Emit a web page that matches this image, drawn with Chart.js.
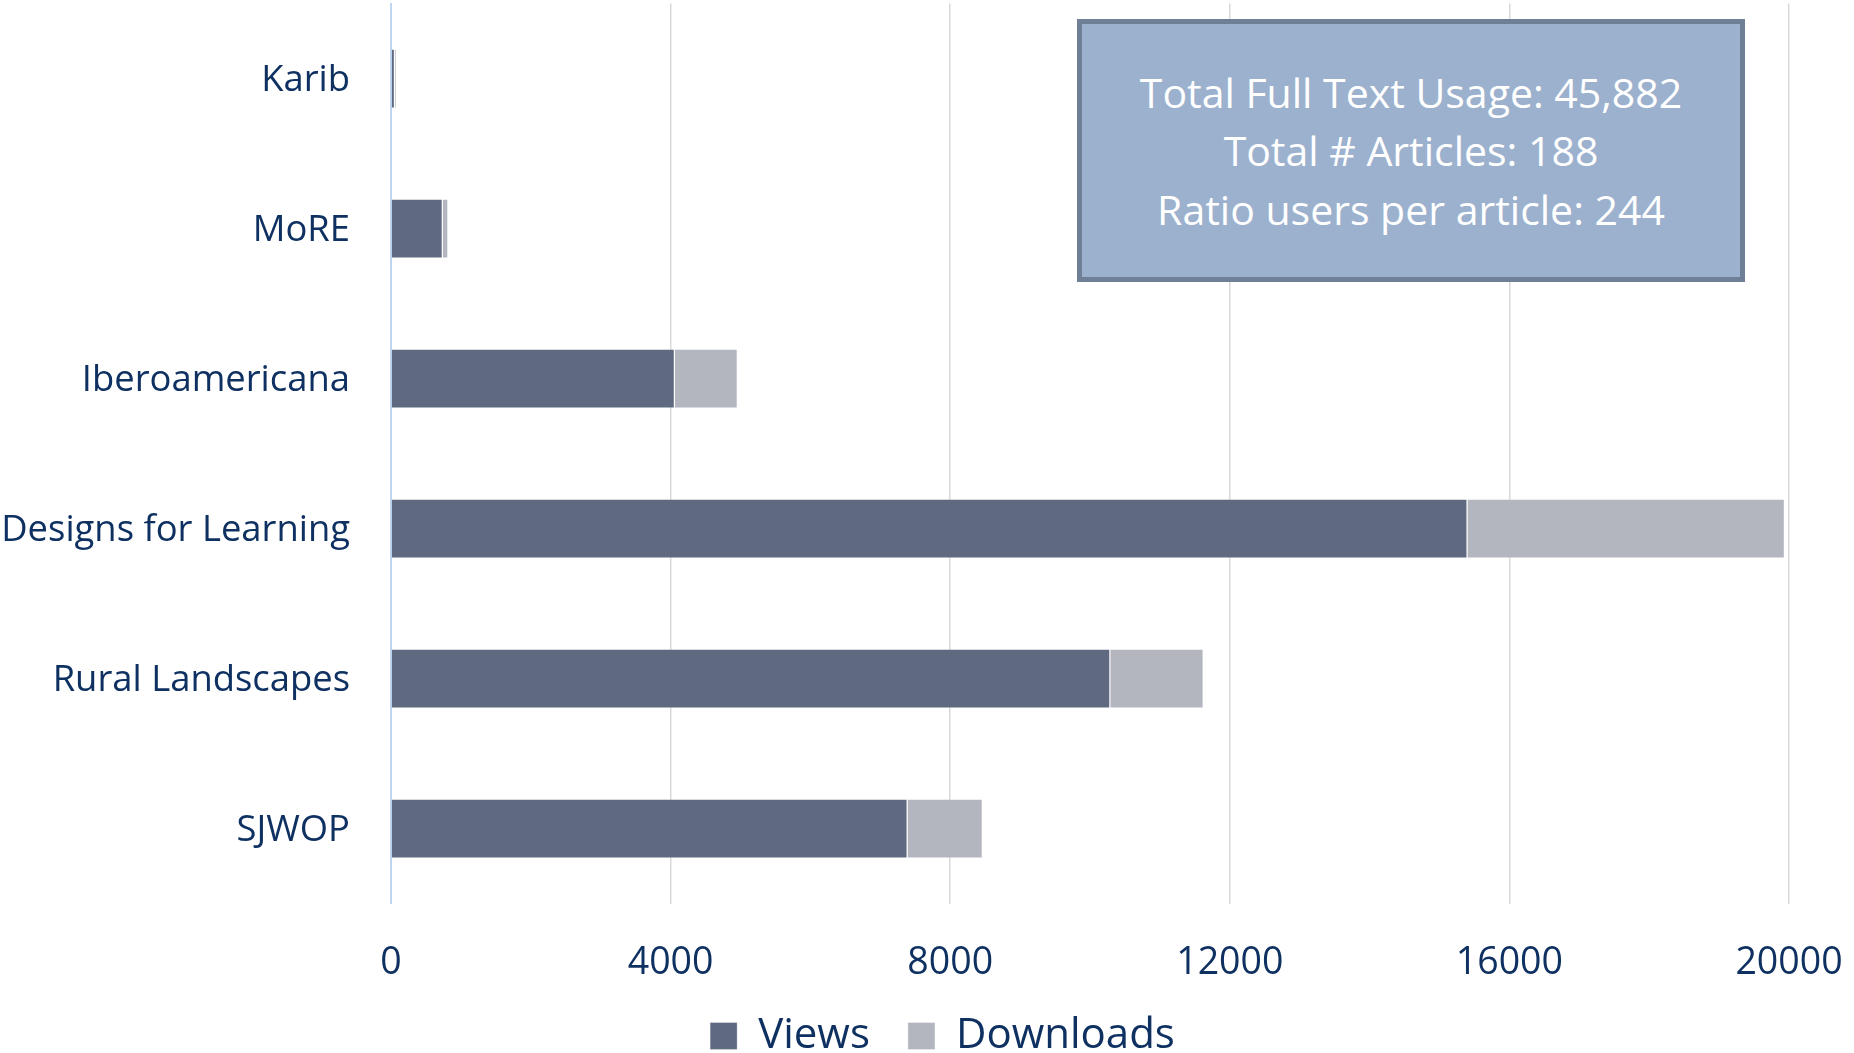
<!DOCTYPE html>
<html>
<head>
<meta charset="utf-8">
<script src="https://cdn.jsdelivr.net/npm/chart.js@4"></script>
<style>
html,body{margin:0;padding:0;overflow:hidden;background:#fff;width:1854px;height:1053px;}
#wrap{position:relative;width:1854px;height:1067px;}
#c{position:absolute;left:0;top:0;}
#note{position:absolute;left:1077px;top:19px;width:668px;height:263px;box-sizing:border-box;border:5px solid #6F7F96;background:#9CB1CD;color:#fff;font-family:'Open Sans',sans-serif;font-size:41px;line-height:58.5px;text-align:center;display:flex;flex-direction:column;justify-content:center;}
</style>
</head>
<body>
<div id="wrap">
<canvas id="c" width="1854" height="1067" style="width:1854px;height:1067px"></canvas>
<div id="note"></div>
</div>
<script>
const categories = ['Karib', 'MoRE', 'Iberoamericana', 'Designs for Learning', 'Rural Landscapes', 'SJWOP'];
const views = [55, 740, 4060, 15400, 10290, 7390];
const downloads = [22, 80, 900, 4540, 1335, 1075];
const seriesNames = ['Views', 'Downloads'];
const xTickValues = [0, 4000, 8000, 12000, 16000, 20000];
const summaryLines = ['Total Full Text Usage: 45,882', 'Total # Articles: 188', 'Ratio users per article: 244'];

const TEXT = '#0F3162';
const FONT = "'Open Sans', sans-serif";

const note = document.getElementById('note');
summaryLines.forEach(t => { const d = document.createElement('div'); d.textContent = t; note.appendChild(d); });

function noPad(s) { s.paddingTop = 0; s.paddingBottom = 0; s.paddingLeft = 0; s.paddingRight = 0; }

const shiftLegend = {
  id: 'shiftLegend',
  afterLayout(chart) { if (chart.legend) { chart.legend.left += 96; } }
};

new Chart(document.getElementById('c'), {
  type: 'bar',
  data: {
    labels: categories,
    datasets: [
      { label: seriesNames[0], data: views, backgroundColor: '#5F6A81', borderColor: 'rgba(255,255,255,0.3)', borderWidth: 1, categoryPercentage: 1, barPercentage: 0.397 },
      { label: seriesNames[1], data: downloads, backgroundColor: '#B3B6BF', borderColor: 'rgba(255,255,255,0.3)', borderWidth: 1, categoryPercentage: 1, barPercentage: 0.397 }
    ]
  },
  plugins: [shiftLegend],
  options: {
    indexAxis: 'y',
    responsive: false,
    animation: false,
    devicePixelRatio: 1,
    layout: { padding: { top: 3.6, right: 65, left: 0, bottom: 0 } },
    plugins: {
      legend: {
        position: 'bottom',
        labels: { font: { family: FONT, size: 42 }, color: TEXT, boxWidth: 27, boxHeight: 27, padding: 38 }
      },
      tooltip: { enabled: false }
    },
    scales: {
      x: {
        stacked: true,
        min: 0,
        max: 20000,
        afterBuildTicks: s => { s.ticks = xTickValues.map(v => ({ value: v })); },
        afterFit: s => { s.height = 73.4; noPad(s); },
        ticks: { font: { family: FONT, size: 37.5 }, color: TEXT, padding: 37.5, callback: v => String(v), maxRotation: 0 },
        grid: { color: c => (c.tick && c.tick.value === 0) ? '#BDD7EE' : '#D9D9D9', lineWidth: 1.5, drawTicks: false },
        border: { display: false }
      },
      y: {
        stacked: true,
        afterFit: s => { s.width = 391; noPad(s); },
        ticks: { font: { family: FONT, size: 36.4 }, color: TEXT, padding: 41, labelOffset: 2.5 },
        grid: { display: false, drawTicks: false },
        border: { display: true, color: '#BDD7EE', width: 2 }
      }
    }
  }
});
</script>
</body>
</html>
